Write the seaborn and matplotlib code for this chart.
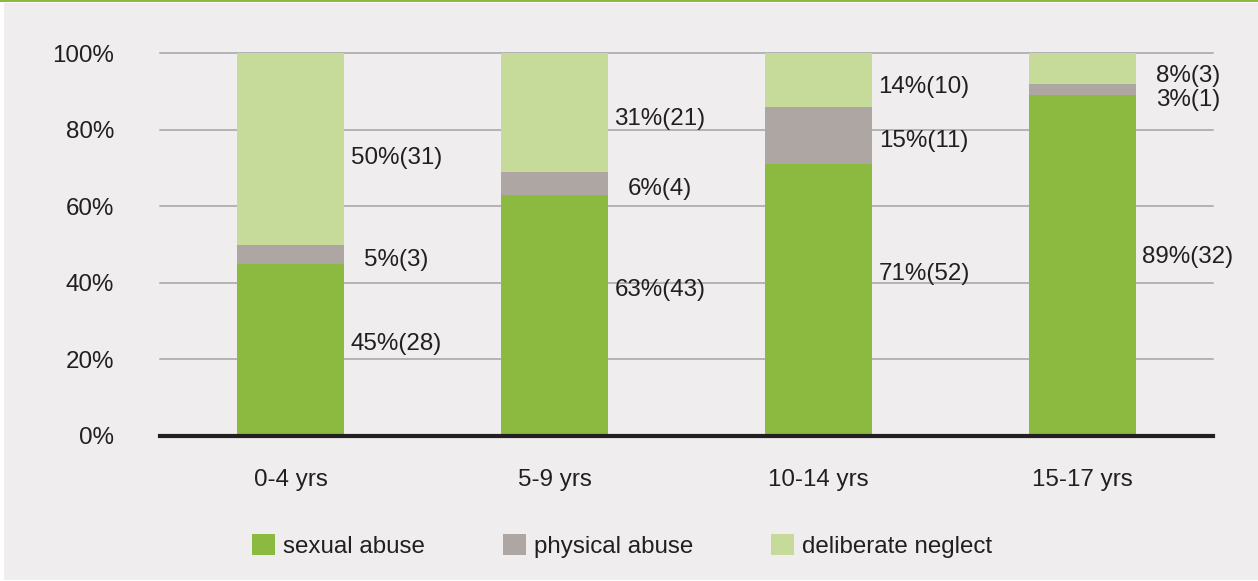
import matplotlib
matplotlib.use("Agg")
import matplotlib.pyplot as plt
from matplotlib.patches import Rectangle, Patch
import pandas as pd
import seaborn as sns

# Age groups and the share (with case counts) of each abuse type
age_groups = ["0-4 yrs", "5-9 yrs", "10-14 yrs", "15-17 yrs"]
sexual_pct = [45, 63, 71, 89]
sexual_n = [28, 43, 52, 32]
physical_pct = [5, 6, 15, 3]
physical_n = [3, 4, 11, 1]
neglect_pct = [50, 31, 14, 8]
neglect_n = [31, 21, 10, 3]
series_names = ["sexual abuse", "physical abuse", "deliberate neglect"]
y_ticks = [0, 20, 40, 60, 80, 100]

# Vertical placement of the value labels (in % units), one row per bar
label_y = [
    [24.0, 46.0, 72.6],
    [38.0, 64.6, 82.8],
    [42.3, 77.1, 91.2],
    [46.7, 87.8, 94.1],
]

C_SEXUAL = "#8cb940"
C_PHYSICAL = "#aea6a3"
C_NEGLECT = "#c6db99"
BG = "#efedee"
TEXT = "#231f20"
FS = 17.4

sns.set_style("white")
plt.rcParams["font.family"] = ["Liberation Sans", "DejaVu Sans"]

df = pd.DataFrame({
    "age": age_groups,
    "sexual": sexual_pct,
    "physical": physical_pct,
    "neglect": neglect_pct,
})
df["upto_physical"] = df["sexual"] + df["physical"]
df["total"] = df["upto_physical"] + df["neglect"]

fig = plt.figure(figsize=(12.58, 5.81), dpi=100, facecolor="white")
# panel background and green rule along the top
fig.patches.append(Rectangle((4 / 1258, 1 / 581), 1 - 4 / 1258, 577 / 581,
                             transform=fig.transFigure, facecolor=BG,
                             edgecolor="none", zorder=-10))
fig.patches.append(Rectangle((0, 1 - 2 / 581), 1, 2 / 581,
                             transform=fig.transFigure, facecolor=C_SEXUAL,
                             edgecolor="none", zorder=-9))

ax = fig.add_axes([160 / 1258, 1 - 436 / 581, (1213 - 160) / 1258, (436 - 53) / 581])
ax.set_facecolor("none")

bar_kw = dict(width=0.405, saturation=1, errorbar=None, linewidth=0, ax=ax)
sns.barplot(data=df, x="age", y="total", color=C_NEGLECT, **bar_kw)
sns.barplot(data=df, x="age", y="upto_physical", color=C_PHYSICAL, **bar_kw)
sns.barplot(data=df, x="age", y="sexual", color=C_SEXUAL, **bar_kw)

ax.set_xlim(-0.495, len(age_groups) - 0.505)
ax.set_ylim(0, 100)
ax.set_yticks(y_ticks)
ax.set_yticklabels([f"{t}%" for t in y_ticks])
ax.set_xlabel("")
ax.set_ylabel("")
ax.tick_params(axis="y", length=0, pad=33, labelsize=FS, labelcolor=TEXT)
ax.tick_params(axis="x", length=0, pad=24, labelsize=FS, labelcolor=TEXT)

ax.set_axisbelow(True)
ax.yaxis.grid(True, color="#b3b3b3", linewidth=1.4)
ax.xaxis.grid(False)
for gl in ax.get_ygridlines():
    gl.set_clip_on(False)

for side in ["top", "left", "right"]:
    ax.spines[side].set_visible(False)
ax.spines["bottom"].set_color(TEXT)
ax.spines["bottom"].set_linewidth(3)
ax.spines["bottom"].set_zorder(5)

# value labels to the right of each bar
for i in range(len(age_groups)):
    texts = [
        f"{sexual_pct[i]}%({sexual_n[i]})",
        f"{physical_pct[i]}%({physical_n[i]})",
        f"{neglect_pct[i]}%({neglect_n[i]})",
    ]
    for txt, yy in zip(texts, label_y[i]):
        ax.text(i + 0.4, yy, txt, ha="center", va="center",
                fontsize=FS, color=TEXT)

handles = [Patch(facecolor=c, edgecolor="none") for c in (C_SEXUAL, C_PHYSICAL, C_NEGLECT)]
fig.legend(handles, series_names, loc="center left",
           bbox_to_anchor=(252 / 1258, 1 - 546 / 581), ncol=3, frameon=False,
           fontsize=FS, handlelength=0.95, handleheight=0.95, handletextpad=0.35,
           columnspacing=3.2, borderpad=0, borderaxespad=0, labelcolor=TEXT)

fig.savefig("out.png", dpi=100, facecolor=fig.get_facecolor())
